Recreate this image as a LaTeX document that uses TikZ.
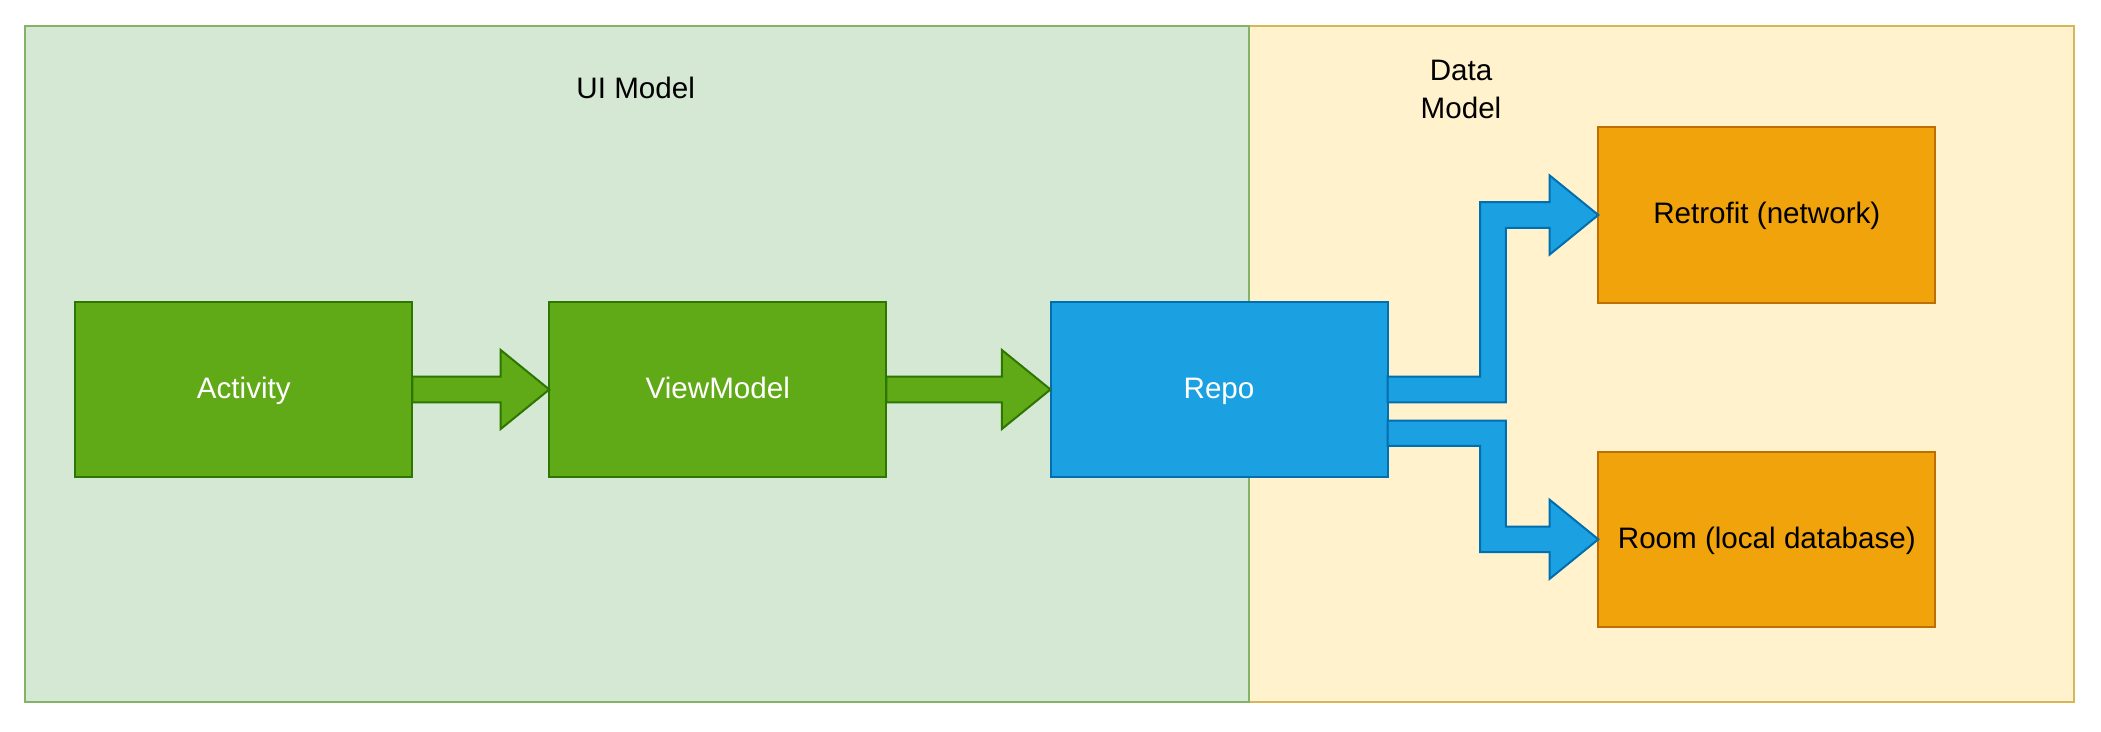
\documentclass[tikz,border=0pt]{standalone}
\usepackage{fontspec}
\setmainfont{Liberation Sans}
\usetikzlibrary{calc}
\definecolor{uifill}{HTML}{D5E8D4}
\definecolor{uistroke}{HTML}{82B366}
\definecolor{datafill}{HTML}{FFF2CC}
\definecolor{datastroke}{HTML}{D6B656}
\definecolor{greenfill}{HTML}{60A917}
\definecolor{greenstroke}{HTML}{2D7600}
\definecolor{bluefill}{HTML}{1BA1E2}
\definecolor{bluestroke}{HTML}{006EAF}
\definecolor{orangefill}{HTML}{F0A30A}
\definecolor{orangestroke}{HTML}{BD7000}
\tikzset{
  panel/.style={draw, line width=0.8pt, inner sep=0pt, outer sep=0pt},
  lbl/.style={inner sep=0pt, outer sep=0pt, font=\fontsize{11.84}{15}\selectfont, text=black},
  box/.style={draw, line width=0.8pt, inner sep=0pt, outer sep=0pt,
    minimum width=134.8pt, minimum height=70.2pt,
    text height=9.1pt, text depth=2.06pt,
    font=\fontsize{11.84}{15}\selectfont},
  greenbox/.style={box, fill=greenfill, draw=greenstroke, text=white},
  bluebox/.style={box, fill=bluefill, draw=bluestroke, text=white},
  orangebox/.style={box, fill=orangefill, draw=orangestroke, text=black},
  garrow/.style={fill=greenfill, draw=greenstroke, line width=0.8pt, line join=miter},
  barrow/.style={fill=bluefill, draw=bluestroke, line width=0.8pt, line join=miter}
}
\begin{document}
\begin{tikzpicture}[x=0.4pt, y=-0.4pt]
\useasboundingbox (0,0) rectangle (2101,732);
\fill[white] (0,0) rectangle (2101,732);
% containers
\node[panel, fill=datafill, draw=datastroke, minimum width=330pt, minimum height=270.2pt] (datapanel) at (1661.8,364.25) {};
\node[panel, fill=uifill, draw=uistroke, minimum width=489.84pt, minimum height=270.2pt] (uipanel) at (637,364.25) {};
\node[lbl, anchor=base] (uilabel) at (635.7,98.3) {UI Model};
\node[lbl, anchor=base, align=center] (datalabel) at (1461,118.3) {Data\\Model};
% boxes
\node[greenbox] (act) at (243.8,389.5) {Activity};
\node[greenbox] (vm) at (717.8,389.5) {ViewModel};
\node[bluebox] (repo) at (1219,389.5) {Repo};
\node[orangebox] (retro) at (1766.8,215) {Retrofit (network)};
\node[orangebox] (room) at (1766.8,539.3) {Room (local database)};
% green arrows
\draw[garrow] ($(act.east)+(0,-12.8)$) -- ($(vm.west)+(-48.6,-12.8)$) -- ($(vm.west)+(-48.6,-39.5)$) -- (vm.west)
  -- ($(vm.west)+(-48.6,39.5)$) -- ($(vm.west)+(-48.6,12.8)$) -- ($(act.east)+(0,12.8)$) -- cycle;
\draw[garrow] ($(vm.east)+(0,-12.8)$) -- ($(repo.west)+(-48.6,-12.8)$) -- ($(repo.west)+(-48.6,-39.5)$) -- (repo.west)
  -- ($(repo.west)+(-48.6,39.5)$) -- ($(repo.west)+(-48.6,12.8)$) -- ($(vm.east)+(0,12.8)$) -- cycle;
% blue arrows
\draw[barrow] ($(repo.east)+(0,-12.8)$) -- ($(repo.east)+(92.7,-12.8)$) -- ($(retro.west)+(-118.1,-12.8)$)
  -- ($(retro.west)+(-48.6,-12.8)$) -- ($(retro.west)+(-48.6,-39.5)$) -- (retro.west)
  -- ($(retro.west)+(-48.6,39.5)$) -- ($(retro.west)+(-48.6,12.8)$) -- ($(retro.west)+(-92.5,12.8)$)
  -- ($(repo.east)+(118.3,12.8)$) -- ($(repo.east)+(0,12.8)$) -- cycle;
\draw[barrow] ($(repo.east)+(0,31.2)$) -- ($(repo.east)+(118.3,31.2)$) -- ($(room.west)+(-92.5,-12.8)$)
  -- ($(room.west)+(-48.6,-12.8)$) -- ($(room.west)+(-48.6,-39.5)$) -- (room.west)
  -- ($(room.west)+(-48.6,39.5)$) -- ($(room.west)+(-48.6,12.8)$) -- ($(room.west)+(-118.1,12.8)$)
  -- ($(repo.east)+(92.7,56.5)$) -- ($(repo.east)+(0,56.5)$) -- cycle;
\end{tikzpicture}
\end{document}
